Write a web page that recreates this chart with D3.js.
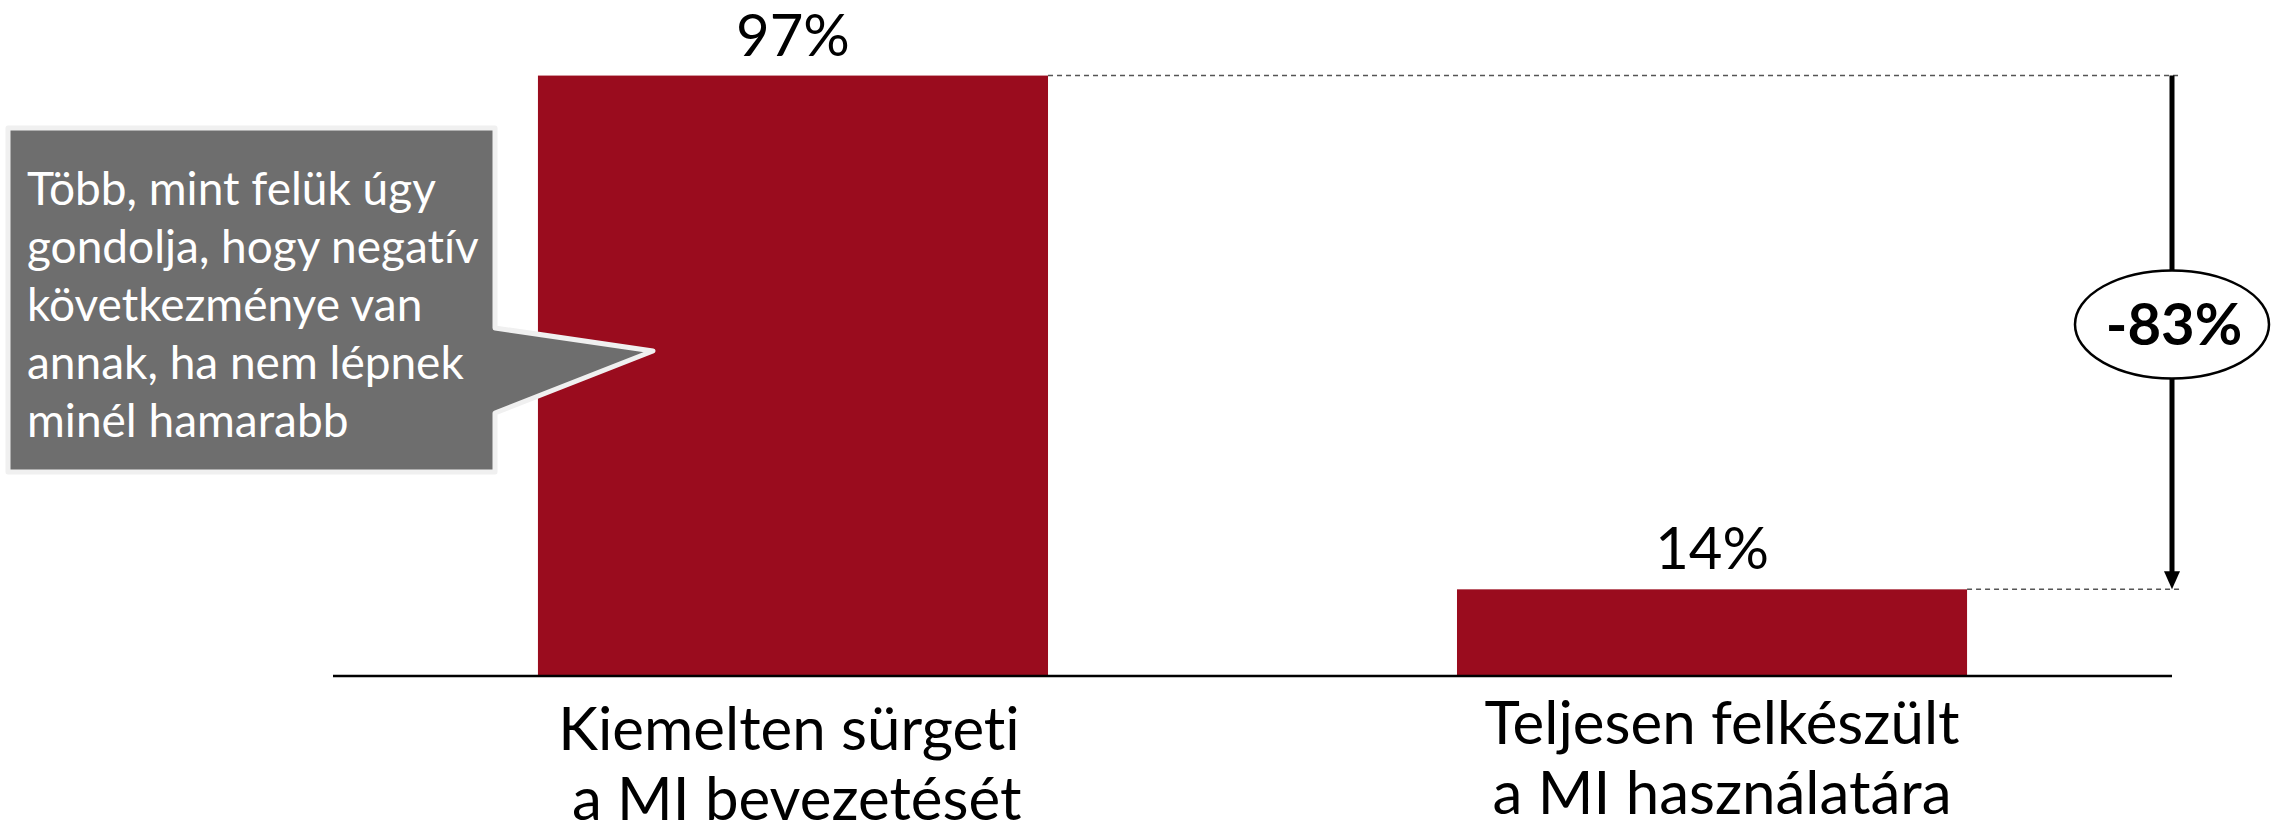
<!DOCTYPE html>
<html>
<head>
<meta charset="utf-8">
<script src="https://cdn.jsdelivr.net/npm/d3@7"></script>
<style>
  body { margin: 0; background: #fff; }
  svg { display: block; font-family: Lato, "Open Sans", sans-serif; font-variant-ligatures: none; }
</style>
</head>
<body>
<script>
// categories, each as its lines
const categories = ["Kiemelten sürgeti", "Teljesen felkészült"];
const categoryLines = [
  ["Kiemelten sürgeti", " a MI bevezetését"],
  ["Teljesen felkészült", "a MI használatára"],
];
const values = [97, 14];
const valueLabels = ["97%", "14%"];
const changeLabel = "-83%";
const calloutLines = [
  "Több, mint felük úgy",
  "gondolja, hogy negatív",
  "következménye van",
  "annak, ha nem lépnek",
  "minél hamarabb",
];

const width = 2273, height = 837;
const barColor = "#9a0c1e";

const svg = d3.select("body").append("svg")
  .attr("width", width)
  .attr("height", height);

// scales
const x = d3.scaleBand()
  .domain(categories)
  .range([333, 2172])
  .paddingInner(0.445)
  .paddingOuter(0.223);

const y = d3.scaleLinear().domain([0, 100]).range([676, 57]);

// bars
svg.append("g")
  .selectAll("rect")
  .data(values)
  .join("rect")
  .attr("x", (d, i) => x(categories[i]))
  .attr("y", (d) => y(d))
  .attr("width", x.bandwidth())
  .attr("height", (d) => y(0) - y(d))
  .attr("fill", barColor);

// value labels
svg.append("g")
  .selectAll("text")
  .data(values)
  .join("text")
  .attr("x", (d, i) => x(categories[i]) + x.bandwidth() / 2)
  .attr("y", (d) => y(d) - 20)
  .attr("text-anchor", "middle")
  .attr("font-size", 58)
  .attr("fill", "#000")
  .text((d, i) => valueLabels[i]);

// baseline axis
svg.append("line")
  .attr("x1", x.range()[0])
  .attr("x2", x.range()[1])
  .attr("y1", y(0))
  .attr("y2", y(0))
  .attr("stroke", "#000")
  .attr("stroke-width", 2.5);

// category labels (first one sits a little lower, as in the original)
const catShift = [[-4, 6], [10, 0]];
svg.append("g")
  .selectAll("text")
  .data(categoryLines)
  .join("text")
  .attr("text-anchor", "middle")
  .attr("font-size", 60)
  .attr("fill", "#000")
  .attr("transform", (d, i) =>
    `translate(${x(categories[i]) + x.bandwidth() / 2 + catShift[i][0]},${y(0) + 68 + catShift[i][1]})`)
  .selectAll("tspan")
  .data((d) => d)
  .join("tspan")
  .attr("x", 0)
  .attr("dy", (d, j) => (j ? 70 : 0))
  .attr("xml:space", "preserve")
  .text((d) => d);

// dotted guides from bar tops to the difference arrow
const arrowX = x.range()[1];
svg.append("g")
  .selectAll("line")
  .data(values)
  .join("line")
  .attr("x1", (d, i) => x(categories[i]) + x.bandwidth())
  .attr("x2", arrowX + 8)
  .attr("y1", (d) => y(d))
  .attr("y2", (d) => y(d))
  .attr("stroke", "#555")
  .attr("stroke-width", 1.5)
  .attr("stroke-dasharray", "5,4");

// difference arrow
const yTop = y(values[0]), yBot = y(values[1]);
svg.append("line")
  .attr("x1", arrowX).attr("x2", arrowX)
  .attr("y1", yTop).attr("y2", yBot - 14)
  .attr("stroke", "#000")
  .attr("stroke-width", 5);
svg.append("path")
  .attr("d", `M${arrowX - 8},${yBot - 18}L${arrowX + 8},${yBot - 18}L${arrowX},${yBot}Z`)
  .attr("fill", "#000");

const cy = (yTop + yBot) / 2 - 8;
svg.append("ellipse")
  .attr("cx", arrowX).attr("cy", cy)
  .attr("rx", 97).attr("ry", 54)
  .attr("fill", "#fff")
  .attr("stroke", "#000")
  .attr("stroke-width", 2.5);
svg.append("text")
  .attr("x", arrowX + 2).attr("y", cy + 21)
  .attr("text-anchor", "middle")
  .attr("font-size", 58)
  .attr("font-weight", "bold")
  .text(changeLabel);

// callout box with pointer
const box = { x0: 8, x1: 495, y0: 128, y1: 472 };
const tip = [653, 351];
const callout = d3.path();
callout.moveTo(box.x0, box.y0);
callout.lineTo(box.x1, box.y0);
callout.lineTo(box.x1, 328);
callout.lineTo(tip[0], tip[1]);
callout.lineTo(box.x1, 413);
callout.lineTo(box.x1, box.y1);
callout.lineTo(box.x0, box.y1);
callout.closePath();
svg.append("path")
  .attr("d", callout.toString())
  .attr("fill", "#6e6e6e")
  .attr("stroke", "#f0f0f0")
  .attr("stroke-width", 5)
  .attr("stroke-linejoin", "round");

svg.append("text")
  .attr("font-size", 46)
  .attr("fill", "#fff")
  .selectAll("tspan")
  .data(calloutLines)
  .join("tspan")
  .attr("x", 27)
  .attr("y", (d, i) => 205 + i * 58)
  .text((d) => d);
</script>
</body>
</html>
